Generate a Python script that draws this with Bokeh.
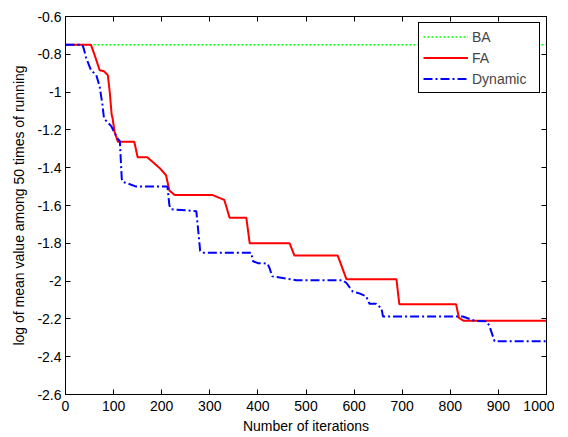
from bokeh.plotting import figure
from bokeh.models import LinearAxis, FixedTicker, Range1d
from bokeh.embed import file_html
from bokeh.resources import INLINE

# ---- data ----
ba_iter = [0, 1000]
ba_val = [-0.75, -0.75]

fa_iter = [0, 53, 60, 71, 80, 88, 92, 96, 98, 102, 109, 143, 150, 170, 195, 209, 216, 227, 306,
           330, 336, 341, 376, 383, 466, 476, 566, 584, 688, 694, 812, 818, 828, 1000]
fa_val = [-0.75, -0.75, -0.80, -0.884, -0.89, -0.91, -1.00, -1.12, -1.14, -1.21, -1.263, -1.263,
          -1.345, -1.345, -1.40, -1.44, -1.52, -1.545, -1.545, -1.57, -1.62, -1.665, -1.665, -1.80,
          -1.80, -1.865, -1.865, -1.99, -1.99, -2.122, -2.122, -2.195, -2.21, -2.21]

dyn_iter = [0, 35, 38, 43, 53, 64, 71, 77, 80, 95, 108, 113, 117, 119, 126, 147, 212, 216, 220, 272,
            280, 285, 386, 390, 400, 420, 424, 430, 480, 576, 584, 597, 611, 625, 632, 646, 657, 660,
            826, 850, 875, 881, 892, 1000]
dyn_val = [-0.75, -0.75, -0.77, -0.82, -0.884, -0.91, -0.97, -1.07, -1.14, -1.18, -1.245, -1.26,
           -1.46, -1.475, -1.48, -1.50, -1.50, -1.60, -1.62, -1.63, -1.84, -1.85, -1.85, -1.895, -1.905,
           -1.907, -1.93, -1.975, -1.995, -1.995, -2.01, -2.055, -2.065, -2.08, -2.12, -2.12, -2.145,
           -2.187, -2.187, -2.21, -2.212, -2.235, -2.318, -2.318]

x_ticks = [0, 100, 200, 300, 400, 500, 600, 700, 800, 900, 1000]
y_ticks = [-2.6, -2.4, -2.2, -2.0, -1.8, -1.6, -1.4, -1.2, -1.0, -0.8, -0.6]
y_tick_labels = {-2.6: "-2.6", -2.4: "-2.4", -2.2: "-2.2", -2.0: "-2", -1.8: "-1.8", -1.6: "-1.6",
                 -1.4: "-1.4", -1.2: "-1.2", -1.0: "-1", -0.8: "-0.8", -0.6: "-0.6"}

FONT = "Liberation Sans"
FS = "14px"

p = figure(output_backend="svg", toolbar_location=None,
           x_range=Range1d(0, 1000), y_range=Range1d(-2.6, -0.6),
           x_axis_label="Number of iterations",
           y_axis_label="log of mean value among 50 times of running",
           min_border_left=65, min_border_right=8, min_border_top=16, min_border_bottom=36)
p.frame_width = 481
p.frame_height = 378
p.xgrid.visible = False
p.ygrid.visible = False
p.outline_line_color = "black"
p.outline_line_width = 1
p.background_fill_color = "white"
p.border_fill_color = "white"

for ax in [p.xaxis[0], p.yaxis[0]]:
    ax.major_tick_in = 5
    ax.major_tick_out = 0
    ax.minor_tick_in = 0
    ax.minor_tick_out = 0
    ax.axis_line_color = "black"
    ax.major_tick_line_color = "black"
    ax.major_label_text_font = FONT
    ax.major_label_text_font_size = FS
    ax.major_label_text_color = "black"
    ax.axis_label_text_font = FONT
    ax.axis_label_text_font_size = FS
    ax.axis_label_text_font_style = "normal"
    ax.axis_label_text_color = "black"

p.xaxis[0].ticker = FixedTicker(ticks=x_ticks)
p.yaxis[0].ticker = FixedTicker(ticks=y_ticks)
p.yaxis[0].major_label_overrides = y_tick_labels
p.xaxis[0].major_label_standoff = 6
p.yaxis[0].major_label_standoff = 4
p.xaxis[0].axis_label_standoff = 4
p.yaxis[0].axis_label_standoff = 7

top = LinearAxis(ticker=FixedTicker(ticks=x_ticks), major_label_text_font_size="1px",
                 major_label_text_color=None,
                 major_tick_in=5, major_tick_out=0, minor_tick_in=0, minor_tick_out=0,
                 major_label_standoff=0, axis_line_color="black")
right = LinearAxis(ticker=FixedTicker(ticks=y_ticks), major_label_text_font_size="1px",
                   major_label_text_color=None,
                   major_tick_in=5, major_tick_out=0, minor_tick_in=0, minor_tick_out=0,
                   major_label_standoff=0, axis_line_color="black")
p.add_layout(top, "above")
p.add_layout(right, "right")

p.line(ba_iter, ba_val, line_color="#00ff00", line_width=1.5, line_dash="2 2", legend_label="BA")
p.line(fa_iter, fa_val, line_color="#ff0000", line_width=2, legend_label="FA")
p.line(dyn_iter, dyn_val, line_color="#0000ff", line_width=2, line_dash="9 3 2 3",
       legend_label="Dynamic")

lg = p.legend[0]
lg.location = "top_right"
lg.margin = 6
lg.padding = 4
lg.spacing = 2
lg.glyph_width = 45
lg.glyph_height = 19
lg.label_height = 19
lg.label_width = 63
lg.label_standoff = 4
lg.label_text_font = FONT
lg.label_text_font_size = FS
lg.border_line_color = "black"
lg.border_line_width = 1
lg.border_line_alpha = 1
lg.background_fill_color = "white"
lg.background_fill_alpha = 1

open("out.html", "w").write(file_html(p, INLINE))
